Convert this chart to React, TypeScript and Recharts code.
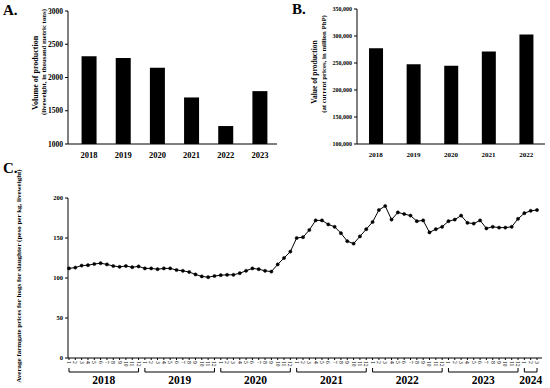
import React from "react";
import {
  BarChart,
  Bar,
  LineChart,
  Line,
  XAxis,
  YAxis,
} from "recharts";

// A: volume of production (thousand metric tons)
const volYears = ["2018", "2019", "2020", "2021", "2022", "2023"];
const volValues = [2320, 2295, 2145, 1700, 1270, 1795];
const volTicks = [1000, 1500, 2000, 2500, 3000];

// B: value of production (million PhP)
const valYears = ["2018", "2019", "2020", "2021", "2022"];
const valValues = [277500, 247500, 245000, 271500, 303000];
const valTicks = [100000, 150000, 200000, 250000, 300000, 350000];

// C: monthly farmgate prices
const priceYears = ["2018", "2019", "2020", "2021", "2022", "2023", "2024"];
const prices2018 = [112, 113, 115.5, 116, 117.5, 118.5, 117, 115, 114, 115, 113.5, 114.5];
const prices2019 = [112, 112, 111, 112, 112, 110, 109, 107.5, 104.5, 102, 101, 102.5];
const prices2020 = [103.5, 104, 104, 106, 109, 112, 111, 109, 108, 117, 125, 133];
const prices2021 = [150, 151, 160, 172, 172, 167, 164, 156, 146, 143, 152, 161];
const prices2022 = [170, 185, 190, 173, 182, 180, 178, 171, 172, 157, 161, 164];
const prices2023 = [171, 173, 178, 169, 168, 172, 162, 164, 163, 163, 164, 174];
const prices2024 = [181, 184, 185];
const priceTicks = [0, 50, 100, 150, 200];

const priceSeries = [prices2018, prices2019, prices2020, prices2021, prices2022, prices2023, prices2024];

const volData = volYears.map((year, i) => ({ year, value: volValues[i] }));
const valData = valYears.map((year, i) => ({ year, value: valValues[i] }));
const priceData = priceYears.flatMap((year, yi) =>
  priceSeries[yi].map((price, mi) => ({
    key: `${year}-${mi + 1}`,
    year,
    month: mi + 1,
    count: priceSeries[yi].length,
    price,
  }))
);

const FONT = "'Liberation Serif', 'Times New Roman', serif";

// layout of panel C
const C_W = 550;
const C_H = 228;
const C_LEFT = 68;
const C_RIGHT = 8;
const C_PAD_L = 1;
const C_PAD_R = 5;
const C_STEP = (C_W - C_LEFT - C_RIGHT - C_PAD_L - C_PAD_R) / (priceData.length - 1);

const tickStyle = { fontFamily: FONT, fontWeight: 700, fill: "#000" };

const MonthTick = (props: any) => {
  const { x, y, payload } = props;
  const month = String(payload.value).split("-")[1];
  return (
    <text
      x={x}
      y={y}
      transform={`rotate(90 ${x} ${y})`}
      textAnchor="start"
      dominantBaseline="central"
      fontSize={5.5}
      fontFamily={FONT}
      fill="#000"
    >
      {month}
    </text>
  );
};

const YearTick = (props: any) => {
  const { x, y, index } = props;
  const d = priceData[index];
  if (!d || d.month !== 1) return null;
  const span = (d.count - 1) * C_STEP;
  const by = y + 2;
  return (
    <g>
      <path
        d={`M${x},${by - 4}V${by}H${x + span}V${by - 4}`}
        fill="none"
        stroke="#000"
        strokeWidth={1}
      />
      <text
        x={x + span / 2}
        y={by + 12}
        textAnchor="middle"
        fontSize={11.5}
        fontFamily={FONT}
        fontWeight={700}
        fill="#000"
      >
        {d.year}
      </text>
    </g>
  );
};

const TwoLineTitle = ({ lines }: { lines: { text: string; x: number; y: number; size: number }[] }) => (
  <g>
    {lines.map((l) => (
      <text
        key={l.text}
        x={l.x}
        y={l.y}
        transform={`rotate(-90 ${l.x} ${l.y})`}
        textAnchor="middle"
        dominantBaseline="central"
        fontSize={l.size}
        fontFamily={FONT}
        fontWeight={700}
        fill="#000"
      >
        {l.text}
      </text>
    ))}
  </g>
);

const panelLabel: React.CSSProperties = {
  position: "absolute",
  fontFamily: FONT,
  fontWeight: 700,
  fontSize: 15,
  lineHeight: "15px",
};

export default function App() {
  return (
    <div style={{ position: "relative", width: 550, height: 388, background: "#fff" }}>
      <style>{`body{margin:0}`}</style>

      <div style={{ ...panelLabel, left: 3, top: 3 }}>A.</div>
      <div style={{ ...panelLabel, left: 292, top: 2 }}>B.</div>
      <div style={{ ...panelLabel, left: 3, top: 161 }}>C.</div>

      {/* A */}
      <div style={{ position: "absolute", left: 0, top: 0 }}>
        <BarChart
          width={280}
          height={160}
          data={volData}
          margin={{ top: 11, right: 3, left: 8, bottom: 0 }}
          barCategoryGap="28%"
        >
          <XAxis
            dataKey="year"
            height={16}
            padding={{ left: 4, right: 0 }}
            axisLine={{ stroke: "#000" }}
            tickLine={false}
            tickMargin={2}
            tick={{ ...tickStyle, fontSize: 8.5 }}
          />
          <YAxis
            width={60}
            domain={[1000, 3000]}
            ticks={volTicks}
            axisLine={{ stroke: "#000" }}
            tickLine={{ stroke: "#000" }}
            tickSize={3}
            tickMargin={2}
            tick={{ ...tickStyle, fontSize: 7.5 }}
            label={{
              content: () => (
                <TwoLineTitle
                  lines={[
                    { text: "Volume of production", x: 35, y: 73, size: 8 },
                    { text: "(liveweight, in thousand metric tons)", x: 43, y: 62, size: 6.8 },
                  ]}
                />
              ),
            }}
          />
          <Bar dataKey="value" fill="#000" isAnimationActive={false} />
        </BarChart>
      </div>

      {/* B */}
      <div style={{ position: "absolute", left: 275, top: 0 }}>
        <BarChart
          width={275}
          height={160}
          data={valData}
          margin={{ top: 9, right: 5, left: 22, bottom: 0 }}
          barCategoryGap="32%"
        >
          <XAxis
            dataKey="year"
            height={16}
            axisLine={{ stroke: "#000" }}
            tickLine={false}
            tickMargin={2}
            tick={{ ...tickStyle, fontSize: 7 }}
          />
          <YAxis
            width={60}
            domain={[100000, 350000]}
            ticks={valTicks}
            tickFormatter={(v: number) => v.toLocaleString("en-US")}
            axisLine={{ stroke: "#000" }}
            tickLine={{ stroke: "#000" }}
            tickSize={3}
            tickMargin={2}
            tick={{ ...tickStyle, fontSize: 6 }}
            label={{
              content: () => (
                <TwoLineTitle
                  lines={[
                    { text: "Value of production", x: 39, y: 72, size: 7.5 },
                    { text: "(at current prices, in million PhP)", x: 48, y: 64, size: 6.8 },
                  ]}
                />
              ),
            }}
          />
          <Bar dataKey="value" fill="#000" isAnimationActive={false} />
        </BarChart>
      </div>

      {/* C */}
      <div style={{ position: "absolute", left: 0, top: 160 }}>
        <LineChart
          width={C_W}
          height={C_H}
          data={priceData}
          margin={{ top: 38, right: C_RIGHT, left: 8, bottom: 0 }}
        >
          <XAxis
            dataKey="key"
            height={12}
            interval={0}
            padding={{ left: C_PAD_L, right: C_PAD_R }}
            axisLine={{ stroke: "#000" }}
            tickLine={{ stroke: "#000" }}
            tickSize={2}
            tickMargin={1}
            tick={<MonthTick />}
          />
          <XAxis
            xAxisId="yr"
            dataKey="key"
            height={18}
            interval={0}
            padding={{ left: C_PAD_L, right: C_PAD_R }}
            axisLine={false}
            tickLine={false}
            tickSize={0}
            tickMargin={0}
            tick={<YearTick />}
          />
          <YAxis
            width={60}
            domain={[0, 200]}
            ticks={priceTicks}
            axisLine={{ stroke: "#000" }}
            tickLine={{ stroke: "#000" }}
            tickSize={3}
            tickMargin={2}
            tick={{ ...tickStyle, fontSize: 6.5 }}
            label={{
              content: () => (
                <TwoLineTitle
                  lines={[
                    {
                      text: "Average farmgate prices for hogs for slaughter (peso per kg, liveweight)",
                      x: 19,
                      y: 116,
                      size: 7,
                    },
                  ]}
                />
              ),
            }}
          />
          <Line
            dataKey="price"
            stroke="#000"
            strokeWidth={1}
            dot={{ r: 1.6, fill: "#000", stroke: "#000", strokeWidth: 0.5 }}
            isAnimationActive={false}
          />
        </LineChart>
      </div>
    </div>
  );
}
